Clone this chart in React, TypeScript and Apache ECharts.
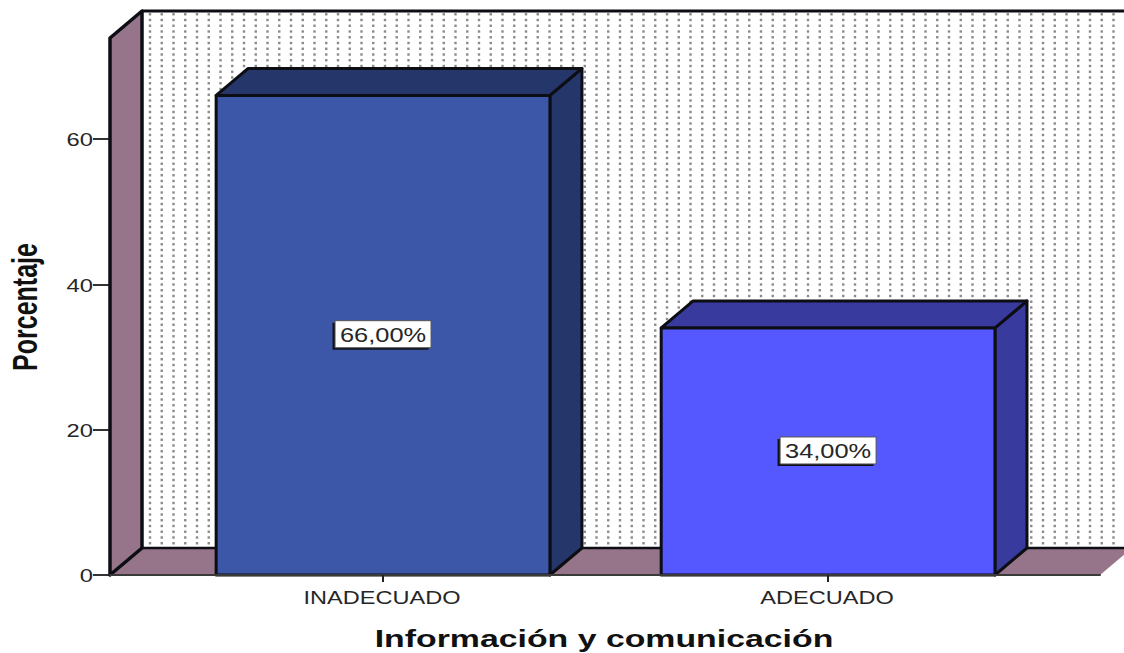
import React, { useEffect, useRef } from "react";
import * as echarts from "echarts";

const categories = ["INADECUADO", "ADECUADO"];
const values = [66, 34];
const valueLabels = ["66,00%", "34,00%"];
const yTicks = [0, 20, 40, 60];
const frontColors = ["#3D57A8", "#5558FF"];
const shadeColors = ["#25366B", "#393A9E"];
const xTitle = "Información y comunicación";
const yTitle = "Porcentaje";

const FONT = "Liberation Sans";
const WALL = "#967489";
const INK = "#0d0d14";
const DX = 32;
const DY = -27;
const X_MIN = -0.6135;
const X_MAX = 1.611;
const Y_MAX = 73.9;
const BAR_HALF = 0.375;

function dotTile() {
  const c = document.createElement("canvas");
  c.width = 47;
  c.height = 23;
  const g = c.getContext("2d")!;
  g.fillStyle = "#ffffff";
  g.fillRect(0, 0, 47, 23);
  g.fillStyle = "#8a8a8a";
  for (let i = 0; i < 4; i++) {
    for (let j = 0; j < 4; j++) {
      g.fillRect(9 + i * 11.75 - 1.2, (2.75 + j * 5.75 - 1.2) % 23, 2.4, 2.4);
    }
  }
  return c;
}

const poly = (points: number[][], fill: string, stroke: string, lineWidth = 3) => ({
  type: "polygon",
  shape: { points },
  style: { fill, stroke, lineWidth, lineJoin: "round" },
});

const label = (x: number, y: number, text: string, scaleX: number, fontSize: number, align = "center") => ({
  type: "text",
  x,
  y,
  scaleX,
  style: {
    text,
    fontSize,
    fontFamily: FONT,
    fill: "#262626",
    align,
    verticalAlign: "middle",
  },
});

export default function App() {
  const ref = useRef<HTMLDivElement>(null);

  useEffect(() => {
    document.body.style.margin = "0";
    const chart = echarts.init(ref.current!, null, { renderer: "svg" });
    const tile = dotTile();

    const renderWalls = (_: any, api: any) => {
      const bl = api.coord([X_MIN, 0]);
      const tl = api.coord([X_MIN, Y_MAX]);
      const br = api.coord([X_MAX, 0]);
      const backTop = tl[1] + DY;
      const backBottom = bl[1] + DY;
      const backLeft = bl[0] + DX;
      const backRight = br[0] + DX;
      return {
        type: "group",
        children: [
          {
            type: "rect",
            shape: { x: backLeft, y: backTop, width: backRight - backLeft, height: backBottom - backTop },
            style: { fill: { image: tile, repeat: "repeat", imageWidth: 47, imageHeight: 23 }, stroke: "none" },
          },
          poly([bl, [backLeft, backBottom], [backRight, backBottom], br], WALL, "none", 0),
          poly([tl, [backLeft, backTop], [backLeft, backBottom], bl], WALL, INK, 3.5),
          { type: "line", shape: { x1: backLeft, y1: backTop, x2: backRight, y2: backTop }, style: { stroke: INK, lineWidth: 3 } },
          { type: "line", shape: { x1: backLeft, y1: backBottom, x2: backRight, y2: backBottom }, style: { stroke: INK, lineWidth: 2.5 } },
        ],
      };
    };

    const renderBar = (_: any, api: any) => {
      const i = api.value(0);
      const v = api.value(1);
      const tl = api.coord([i - BAR_HALF, v]);
      const br = api.coord([i + BAR_HALF, 0]);
      const tr = [br[0], tl[1]];
      const bl = [tl[0], br[1]];
      const up = (p: number[]) => [p[0] + DX, p[1] + DY];
      const c = api.coord([i, v / 2]);
      const boxW = 96;
      const boxH = 27;
      return {
        type: "group",
        children: [
          poly([tr, up(tr), up(br), br], shadeColors[i], INK),
          poly([tl, up(tl), up(tr), tr], shadeColors[i], INK),
          poly([tl, tr, br, bl], frontColors[i], INK),
          {
            type: "rect",
            shape: { x: c[0] - boxW / 2 - 2.5, y: c[1] - boxH / 2 + 1, width: boxW, height: boxH },
            style: { fill: "#11111a" },
          },
          {
            type: "rect",
            shape: { x: c[0] - boxW / 2, y: c[1] - boxH / 2 - 1, width: boxW, height: boxH },
            style: { fill: "#ffffff", stroke: "#555555", lineWidth: 1 },
          },
          label(c[0], c[1], valueLabels[i], 1.27, 20),
        ],
      };
    };

    const renderXLabel = (_: any, api: any) => {
      const i = api.value(0);
      const p = api.coord([i, 0]);
      return label(p[0] - 1, p[1] + 23, categories[i], 1.24, 19);
    };

    const renderYLabel = (_: any, api: any) => {
      const v = api.value(0);
      const p = api.coord([X_MIN, v]);
      return label(p[0] - 17, p[1] + 1, String(v), 1.25, 19, "right");
    };

    chart.setOption({
      animation: false,
      backgroundColor: "#ffffff",
      grid: { left: 110, right: 24, top: 38, bottom: 78 },
      xAxis: {
        type: "value",
        min: X_MIN,
        max: X_MAX,
        z: 6,
        splitLine: { show: false },
        axisLine: { show: true, lineStyle: { color: "#3a3a3a", width: 2 } },
        axisTick: { show: true, customValues: [0, 1], length: 7, lineStyle: { color: "#222", width: 2 } },
        axisLabel: { show: false },
      },
      yAxis: {
        type: "value",
        min: 0,
        max: Y_MAX,
        z: 1,
        splitLine: { show: false },
        axisLine: { show: true, onZero: false, lineStyle: { color: INK, width: 2 } },
        axisTick: { show: true, customValues: yTicks, length: 17, lineStyle: { color: "#333", width: 2 } },
        axisLabel: { show: false },
      },
      series: [
        { type: "custom", z: 2, silent: true, clip: false, data: [[0]], renderItem: renderWalls },
        { type: "custom", z: 3, silent: true, clip: false, data: values.map((v, i) => [i, v]), encode: { x: 0, y: 1 }, renderItem: renderBar },
        { type: "custom", z: 4, silent: true, clip: false, data: categories.map((_, i) => [i]), encode: { x: 0 }, renderItem: renderXLabel },
        { type: "custom", z: 4, silent: true, clip: false, data: yTicks.map((v) => [v]), encode: { y: 0 }, renderItem: renderYLabel },
      ],
      graphic: [
        {
          type: "text",
          x: 604,
          y: 638,
          scaleX: 1.41,
          style: { text: xTitle, fontSize: 24, fontWeight: "bold", fontFamily: FONT, fill: "#111", align: "center", verticalAlign: "middle" },
        },
        {
          type: "text",
          x: 25,
          y: 307,
          rotation: Math.PI / 2,
          scaleY: 1.42,
          style: { text: yTitle, fontSize: 25, fontWeight: "bold", fontFamily: FONT, fill: "#111", align: "center", verticalAlign: "middle" },
        },
      ],
    });
    return () => chart.dispose();
  }, []);

  return <div ref={ref} style={{ width: 1124, height: 653 }} />;
}
